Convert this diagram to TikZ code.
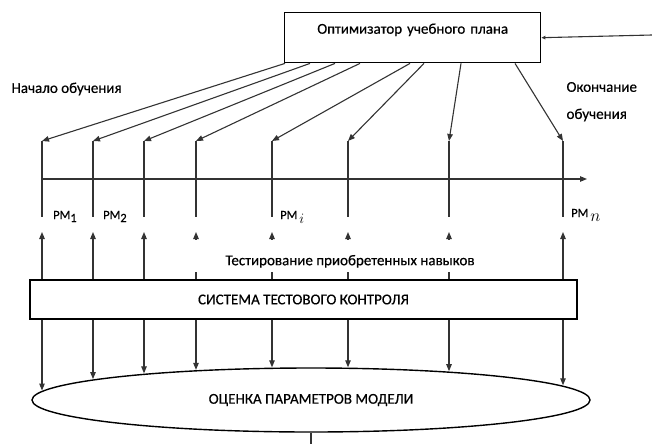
\documentclass[tikz,border=0pt]{standalone}
\usepackage{fontspec}
\setmainfont{Carlito}[FakeBold=0.5]
\usetikzlibrary{arrows.meta,shapes.geometric}

\begin{document}
\begin{tikzpicture}[x=1pt,y=-1pt,
  tip/.style={-{Triangle[length=7pt,width=5.5pt]}},
  wire/.style={draw=black!80, line width=1.1pt},
  frame/.style={draw=black, line width=1.4pt},
  txt/.style={font=\fontsize{15}{18}\selectfont},
  pm/.style={font=\fontsize{12.5}{14}\selectfont, anchor=base west, inner sep=0pt}
]
\useasboundingbox (0,0) rectangle (652,444);

% main blocks
\node[frame, txt, anchor=north west, inner sep=0pt, text width=256pt, align=center,
      text height=21pt, text depth=29pt] (opt) at (284,12) {Оптимизатор учебного плана};
\node[frame, txt, minimum width=547pt, minimum height=39pt, inner sep=0pt]
      (stc) at (303.5,299.5) {СИСТЕМА ТЕСТОВОГО КОНТРОЛЯ};
\node[ellipse, frame, txt, minimum width=558pt, minimum height=64pt, inner sep=0pt]
      (est) at (311,400) {ОЦЕНКА ПАРАМЕТРОВ МОДЕЛИ};

% external input of the optimizer
\coordinate (in) at (652,35);
\draw[wire, -{Triangle[length=4pt,width=3.5pt]}] (in) -- (opt.east);

% time axis
\coordinate (t0) at (42,179);
\coordinate (tend) at (587,179);
\draw[wire, tip] (t0) -- (tend);

% control points on the time axis
\foreach \k/\x/\s in {1/42/1,2/93/26,3/144/51,4/196/76,5/272/126,6/348/140,7/449/177,8/563/231}{
  \pgfmathsetmacro\ey{399-32*sqrt(1-((\x-311)/279)^2)}
  \coordinate (top\k) at (\x,141);
  \coordinate (bot\k) at (\x,217);
  \coordinate (up\k) at (\x,232);
  \coordinate (dn\k) at (\x,\ey);
  \draw[wire, tip] ([xshift=\s pt]opt.south west) -- (top\k);
  \draw[wire] (top\k) -- (bot\k);
  \draw[wire, tip] (stc.north -| top\k) -- (up\k);
  \draw[wire, tip] (stc.south -| top\k) -- (dn\k);
}

% output of the estimation block
\coordinate (out) at (311,444);
\draw[wire] (est.south) -- (out);

% labels
\node[txt, fill=white, inner xsep=38pt, inner ysep=0pt, text height=25pt, text depth=7pt,
      anchor=north] (tst) at (350,240) {Тестирование приобретенных навыков};
\node[txt, anchor=west] (begin) at (8,89) {Начало обучения};
\node[txt, anchor=west] (fin1) at (563,87) {Окончание};
\node[txt, anchor=west] (fin2) at (563,115) {обучения};

\node[pm] (pm1) at (53,219) {PM\raisebox{-3pt}{1}};
\node[pm] (pm2) at (103,219) {PM\raisebox{-3pt}{2}};
\node[pm] (pmi) at (280,219) {PM\,\raisebox{-4pt}{\fontsize{15}{15}\selectfont$i$}};
\node[pm] (pmn) at (571,217) {PM\,\raisebox{-4pt}{\fontsize{18}{18}\selectfont$n$}};
\end{tikzpicture}
\end{document}
